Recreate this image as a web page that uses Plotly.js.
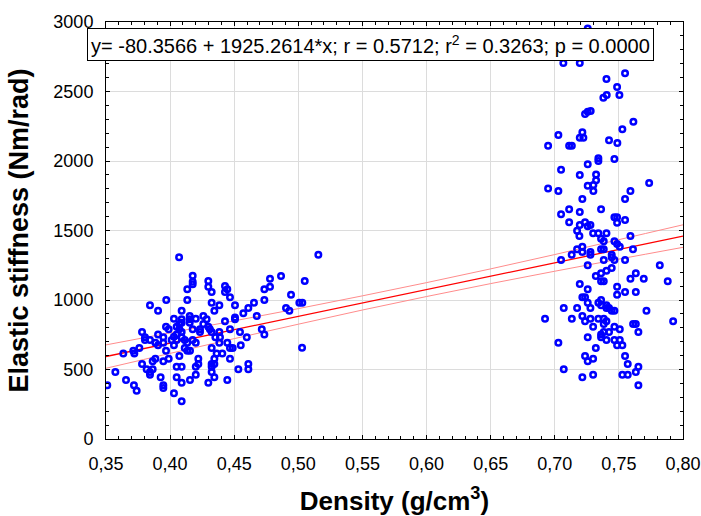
<!DOCTYPE html>
<html>
<head>
<meta charset="utf-8">
<script src="https://cdn.plot.ly/plotly-3.0.1.min.js"></script>
<style>html,body{margin:0;padding:0;background:#fff;}#chart{width:701px;height:516px;}</style>
</head>
<body>
<div id="chart"></div>
<script>
// Scatter data: density (g/cm3) and elastic stiffness (Nm/rad)
var density = [
0.407,0.4176,0.4176,0.4176,0.4298,0.4298,0.4324,0.4428,0.4446,0.4428,0.4467,0.4134,0.4134,0.397,0.3843,0.3906,0.409,0.403,0.409,0.409,
0.4153,0.4153,0.4153,0.42,0.4259,0.4285,0.4324,0.4345,0.4384,0.4506,0.4571,0.461,0.4654,0.4735,0.4735,0.4779,0.4779,0.4865,0.4943,0.5008,
0.4904,0.493,0.4676,0.4506,0.4506,0.4428,0.4298,0.4324,0.4384,0.4467,0.4545,0.4598,0.4715,0.4735,0.4176,0.4233,0.42,0.4176,0.4134,0.4155,
0.4114,0.4072,0.403,0.4051,0.4072,0.409,0.409,0.4051,0.3968,0.3989,0.3906,0.3947,0.3947,0.3906,0.3885,0.3843,0.3804,0.3781,0.3804,0.376,
0.3713,0.3721,0.3635,0.3781,0.3817,0.3843,0.3843,0.3864,0.3864,0.3885,0.3947,0.3989,0.3968,0.3926,0.3947,0.3947,0.3718,0.3739,0.3656,0.3573,
0.351,0.403,0.409,0.4051,0.409,0.4051,0.409,0.4155,0.42,0.42,0.422,0.422,0.4298,0.4324,0.4324,0.4345,0.4324,0.4345,0.4345,0.4363,
0.4324,0.4407,0.4446,0.4467,0.4467,0.4488,0.4384,0.4446,0.4532,0.461,0.461,0.4551,0.4012,0.403,0.4114,0.4134,0.4233,0.4353,0.4389,0.4072,
0.4051,0.4259,0.4310,0.5156,0.505,0.5031,0.5029,
0.7257,0.7067,0.7195,0.7548,0.7403,0.7486,0.7504,0.7405,0.7379,0.7236,0.7257,0.728,0.7613,0.7527,0.7028,0.6948,0.7112,0.7133,0.7215,0.7195,
0.7223,0.7423,0.7488,0.734,0.734,0.7465,0.7257,0.7049,0.7195,0.7322,0.7322,0.7301,0.7257,0.7301,0.6948,0.7028,0.7215,0.7736,0.759,0.7548,
0.7049,0.7112,0.7195,0.7361,0.7112,0.7195,0.7236,0.7278,0.7257,0.7465,0.7486,0.7486,0.7548,
0.7174,0.7192,0.7299,0.734,0.7403,0.7361,0.7382,0.7465,0.7486,0.7507,0.759,0.761,0.7132,0.7174,0.7215,0.7215,0.7278,0.7278,0.7361,0.7382,
0.7444,0.7444,0.7465,0.7382,0.7548,0.7049,0.7257,0.7819,0.7444,0.7403,0.7361,0.732,0.7361,0.7382,0.7632,0.759,0.7694,0.7881,0.7195,0.7486,
0.7257,0.7548,0.7632,0.7486,0.7215,0.7236,0.7257,0.7361,0.734,0.7361,0.7403,0.7423,0.7465,0.7444,0.7403,0.7278,0.707,0.7174,0.7715,0.6924,
0.7133,0.7215,0.7236,0.7278,0.7299,0.734,0.7382,0.7403,0.7382,0.7465,0.7507,0.7423,0.7611,0.7632,0.7652,0.7923,0.7257,0.7361,0.7361,0.7382,
0.7403,0.7465,0.7507,0.7486,0.7527,0.7028,0.732,0.7236,0.7257,0.7299,0.7548,0.7569,0.7652,0.7632,0.707,0.7527,0.7569,0.7215,0.7299,0.7652
];
var stiffness = [
1307,1175,1132,1113,1137,1096,1058,1101,1077,1058,1019,1077,1000,1000,962,923,923,866,861,837,
885,861,837,866,885,861,981,923,962,962,904,942,981,1000,1077,1153,1096,1173,1038,981,
942,923,885,875,861,847,808,770,770,789,770,732,789,751,789,789,693,712,635,635,
655,597,736,751,789,770,732,712,808,789,751,732,693,674,693,712,732,770,712,655,
635,616,616,540,501,463,482,559,501,578,559,578,635,444,386,367,386,348,424,482,
386,329,271,520,520,444,405,424,463,520,540,578,405,482,540,540,520,444,578,616,
655,616,424,578,655,655,693,693,501,540,501,674,712,674,712,693,770,732,732,827,
808,827,790,1326,1137,981,657,
2954,2705,2705,2631,2590,2532,2475,2475,2455,2338,2355,2360,2283,2228,2187,2110,2110,2110,2206,2168,
2168,2149,2130,2019,2000,2014,1976,1937,1899,1902,1861,1827,1822,1784,1803,1784,1727,1842,1784,1727,
1617,1652,1633,1652,1559,1540,1559,1540,1530,1595,1595,1556,1575,
1499,1460,1480,1480,1480,1441,1422,1422,1403,1383,1460,1365,1326,1365,1383,1345,1345,1326,1365,1365,
1326,1307,1288,1288,1288,1288,1250,1250,1230,1211,1192,1173,1134,1134,1192,1153,1153,1134,1115,1096,
1077,1058,1058,1038,1019,1019,981,1000,981,962,962,942,923,923,942,942,942,942,923,866,
866,885,847,866,808,866,866,847,827,808,789,770,827,827,770,847,732,751,732,770,
712,712,712,674,674,693,655,597,559,578,597,540,520,482,501,463,463,444,463,386
];

// Regression line (from the printed equation) end points
var fitX = [0.35, 0.80];
var fitY = [593.5, 1459.9];

// 95% confidence band
var bandX = [0.35, 0.40, 0.45, 0.50, 0.55, 0.60, 0.65, 0.70, 0.75, 0.80];
var bandUpper = [677, 764, 850, 938, 1030, 1125, 1224, 1327, 1434, 1541];
var bandLower = [509, 616, 722, 826, 928, 1025, 1118, 1207, 1294, 1379];

var xTicks = [0.35, 0.40, 0.45, 0.50, 0.55, 0.60, 0.65, 0.70, 0.75, 0.80];
var yTicks = [0, 500, 1000, 1500, 2000, 2500, 3000];

var FONT = 'Liberation Sans, Arial, sans-serif';

var traces = [
  {x: bandX, y: bandUpper, mode: 'lines', line: {color: '#ff8c8c', width: 1, shape: 'spline'}, hoverinfo: 'skip'},
  {x: bandX, y: bandLower, mode: 'lines', line: {color: '#ff8c8c', width: 1, shape: 'spline'}, hoverinfo: 'skip'},
  {x: fitX, y: fitY, mode: 'lines', line: {color: '#ff0000', width: 1.3}},
  {x: density, y: stiffness, mode: 'markers', cliponaxis: true,
   marker: {symbol: 'circle-open', size: 5.5, color: '#0000ff', line: {color: '#0000ff', width: 2.5}}}
];

var axisCommon = {
  showline: true, linecolor: '#000', linewidth: 1, mirror: 'ticks',
  ticks: 'inside', ticklen: 4, tickcolor: '#000', tickwidth: 1,
  showgrid: true, gridcolor: '#dcdcdc', gridwidth: 1, zeroline: false,
  tickfont: {family: FONT, size: 18, color: '#000'}
};

var layout = {
  width: 701, height: 516,
  margin: {l: 106, r: 18, t: 22, b: 77},
  paper_bgcolor: '#fff', plot_bgcolor: '#fff',
  showlegend: false,
  separators: ', ',
  font: {family: FONT, color: '#000'},
  xaxis: Object.assign({}, axisCommon, {
    range: [0.35, 0.80], tickvals: xTicks, tickformat: '.2f',
    ticklabelstandoff: 8,
    minor: {ticks: 'inside', ticklen: 3, dtick: 0.01, tick0: 0.35, tickcolor: '#000', showgrid: false},
    title: {text: 'Density (g/cm<sup>3</sup>)', font: {family: FONT, size: 26, weight: 'bold', color: '#000'}, standoff: 22}
  }),
  yaxis: Object.assign({}, axisCommon, {
    range: [0, 3000], tickvals: yTicks,
    ticklabelstandoff: 8,
    minor: {ticks: 'inside', ticklen: 3, dtick: 100, tick0: 0, tickcolor: '#000', showgrid: false},
    title: {text: 'Elastic stiffness (Nm/rad)', font: {family: FONT, size: 27, weight: 'bold', color: '#000'}, standoff: 16}
  }),
  annotations: [{
    xref: 'paper', yref: 'paper', x: -0.033, y: 0.986, xanchor: 'left', yanchor: 'top',
    text: 'y= -80.3566 + 1925.2614*x; r = 0.5712; r<sup>2</sup> = 0.3263; p = 0.0000',
    showarrow: false, bgcolor: '#fff', bordercolor: '#000', borderwidth: 1, borderpad: 3,
    font: {family: FONT, size: 20, color: '#000'}
  }]
};

Plotly.newPlot('chart', traces, layout, {displayModeBar: false, staticPlot: true});
</script>
</body>
</html>
